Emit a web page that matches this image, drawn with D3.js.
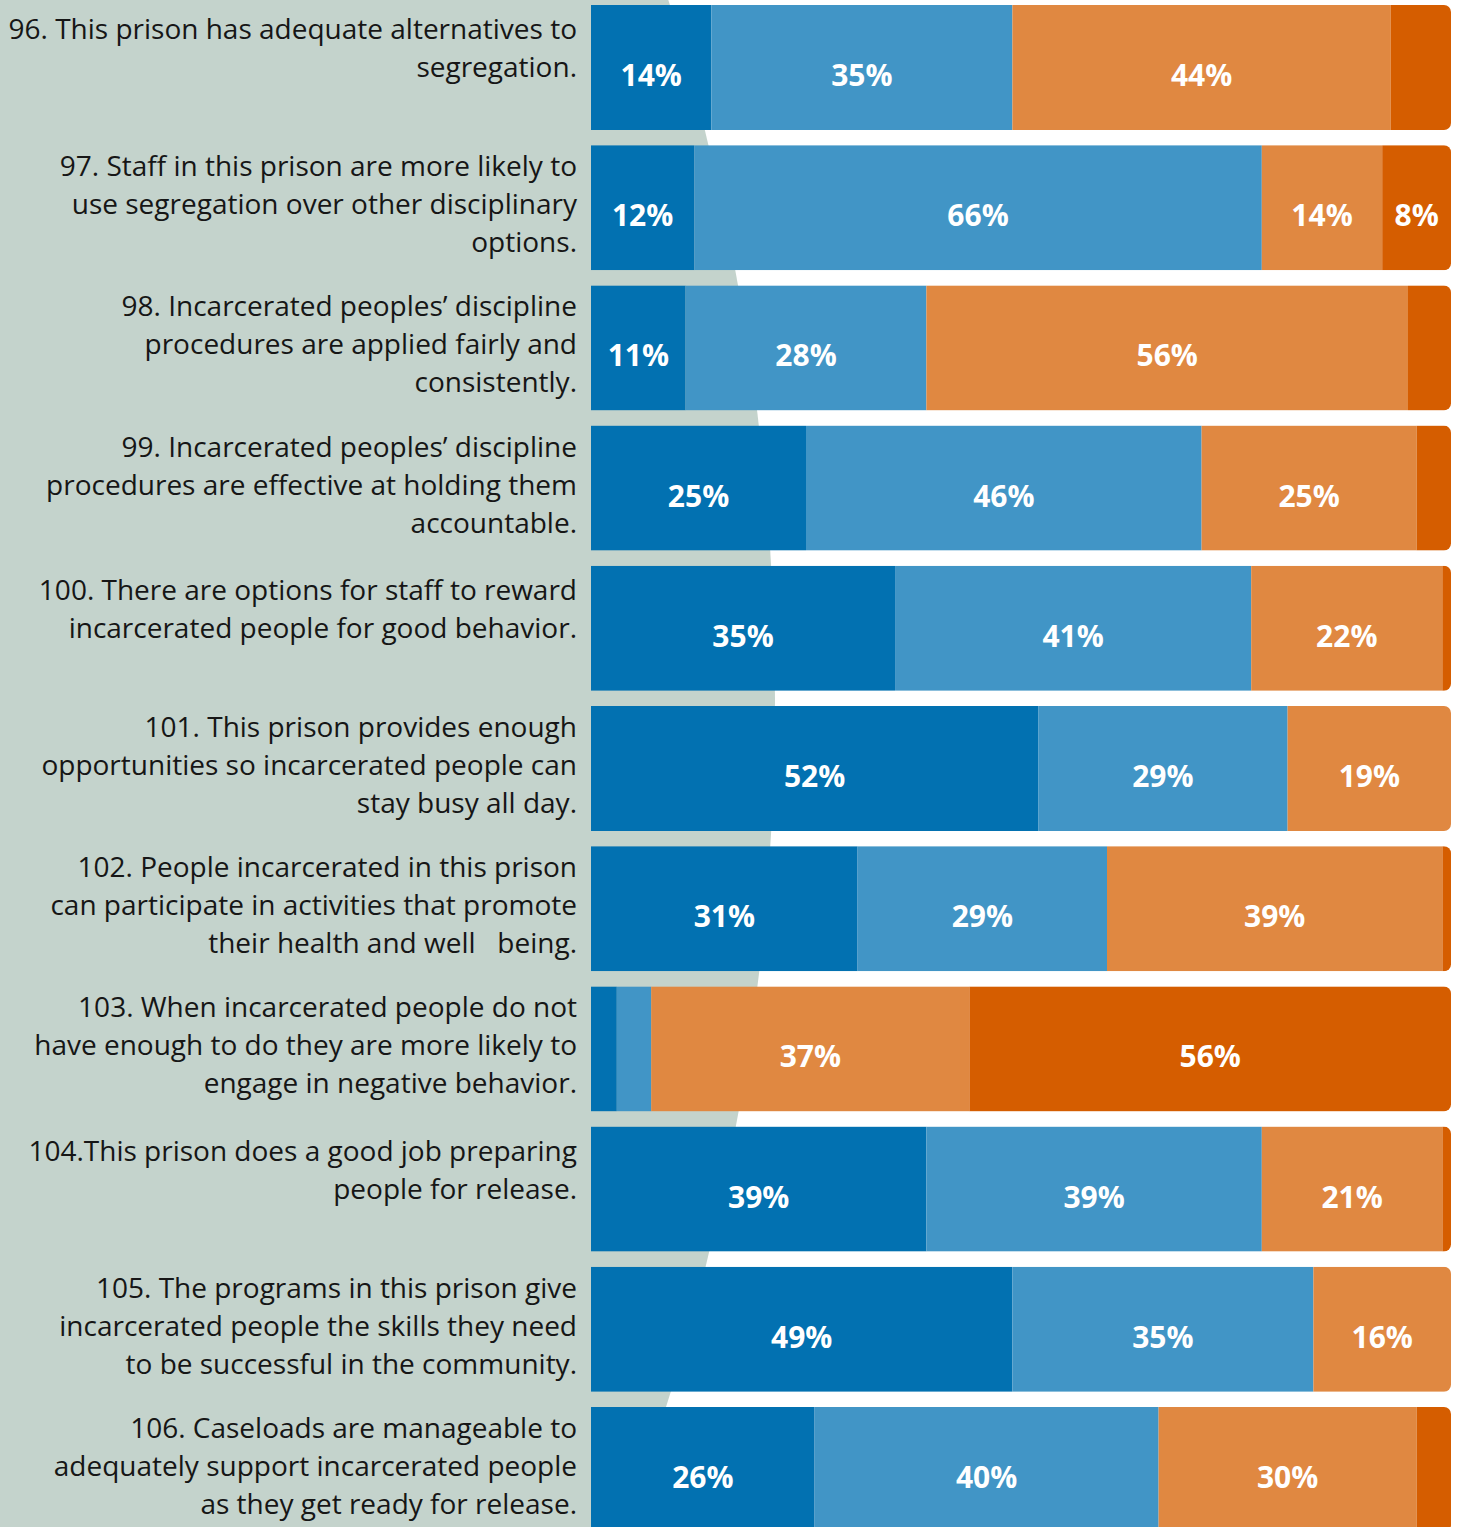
<!DOCTYPE html>
<html>
<head>
<meta charset="utf-8">
<script src="https://cdn.jsdelivr.net/npm/d3@7"></script>
<style>
  html, body { margin: 0; padding: 0; background: #fff; }
  svg { display: block; }
</style>
</head>
<body>
<svg id="chart" width="1458" height="1527"></svg>
<script>
// question text, already broken into the lines used in the report
let questions = [
  ["96. This prison has adequate alternatives to", "segregation."],
  ["97. Staff in this prison are more likely to", "use segregation over other disciplinary", "options."],
  ["98. Incarcerated peoples\u2019 discipline", "procedures are applied fairly and", "consistently."],
  ["99. Incarcerated peoples\u2019 discipline", "procedures are effective at holding them", "accountable."],
  ["100. There are options for staff to reward", "incarcerated people for good behavior."],
  ["101. This prison provides enough", "opportunities so incarcerated people can", "stay busy all day."],
  ["102. People incarcerated in this prison", "can participate in activities that promote", "their health and well   being."],
  ["103. When incarcerated people do not", "have enough to do they are more likely to", "engage in negative behavior."],
  ["104.This prison does a good job preparing", "people for release."],
  ["105. The programs in this prison give", "incarcerated people the skills they need", "to be successful in the community."],
  ["106. Caseloads are manageable to", "adequately support incarcerated people", "as they get ready for release."]
];

let stronglyAgree    = [14, 12, 11, 25, 35, 52, 31,  3, 39, 49, 26],
    agree            = [35, 66, 28, 46, 41, 29, 29,  4, 39, 35, 40],
    disagree         = [44, 14, 56, 25, 22, 19, 39, 37, 21, 16, 30],
    stronglyDisagree = [ 7,  8,  5,  4,  1,  0,  1, 56,  1,  0,  4];

let keys = ["sa", "a", "d", "sd"];
let colors = ["#0271b1", "#4195c6", "#e08841", "#d55d00"];

let rows = questions.map(function(q, i) {
  return { id: i, lines: q, sa: stronglyAgree[i], a: agree[i], d: disagree[i], sd: stronglyDisagree[i] };
});

let svg = d3.select("#chart"),
    width = +svg.attr("width"),
    height = +svg.attr("height");

// backdrop: white page with a big grey-green disc on the left
svg.append("rect").attr("width", width).attr("height", height).attr("fill", "#ffffff");
svg.append("circle")
    .attr("cx", -1575).attr("cy", 700).attr("r", 2350)
    .attr("fill", "#c4d3cc");

let x = d3.scaleLinear().domain([0, 1]).range([591, 1451]);
let y = d3.scaleBand()
    .domain(rows.map(function(d) { return d.id; }))
    .range([5, 1532])
    .paddingInner(0.1084)
    .paddingOuter(0);

let color = d3.scaleOrdinal().domain(keys).range(colors);

// each row is shown as shares of its own total
let series = d3.stack().keys(keys).offset(d3.stackOffsetExpand)(rows);

let bh = y.bandwidth(), r = 7;

// clip every row so only the right end is rounded
let defs = svg.append("defs");
defs.selectAll("clipPath")
  .data(rows)
  .enter().append("clipPath")
    .attr("id", function(d) { return "clip" + d.id; })
  .append("rect")
    .attr("x", x(0) - 20)
    .attr("y", function(d) { return y(d.id); })
    .attr("width", x(1) - x(0) + 20)
    .attr("height", bh)
    .attr("rx", r);

let layer = svg.selectAll("g.layer")
  .data(series)
  .enter().append("g")
    .attr("class", "layer")
    .attr("fill", function(s) { return color(s.key); });

layer.selectAll("rect")
  .data(function(s) { return s.map(function(d) { d.key = s.key; return d; }); })
  .enter().append("rect")
    .attr("clip-path", function(d) { return "url(#clip" + d.data.id + ")"; })
    .attr("x", function(d) { return x(d[0]); })
    .attr("y", function(d) { return y(d.data.id); })
    .attr("width", function(d) { return Math.max(0, x(d[1]) - x(d[0])); })
    .attr("height", bh);

// percentage labels
layer.selectAll("text")
  .data(function(s) { return s.filter(function(d) { return d.data[s.key] >= 8; }); })
  .enter().append("text")
    .attr("x", function(d) { return (x(d[0]) + x(d[1])) / 2; })
    .attr("y", function(d) { return y(d.data.id) + bh / 2 + 18.5; })
    .attr("text-anchor", "middle")
    .attr("fill", "#ffffff")
    .style("font-family", "'Open Sans', sans-serif")
    .style("font-weight", "700")
    .style("font-size", "30px")
    .text(function(d) { return d.data[d.key] + "%"; });

// question labels, right aligned against the bars
let qText = svg.selectAll("text.question")
  .data(rows)
  .enter().append("text")
    .attr("class", "question")
    .attr("text-anchor", "end")
    .attr("fill", "#161616")
    .style("font-family", "'Open Sans', sans-serif")
    .style("font-size", "28px")
    .style("white-space", "pre");

qText.selectAll("tspan")
  .data(function(d) {
    let top = y(d.id) + (d.lines.length < 3 ? 34 : 31);
    return d.lines.map(function(l, i) { return { text: l, y: top + i * 38 }; });
  })
  .enter().append("tspan")
    .attr("x", 577)
    .attr("y", function(d) { return d.y; })
    .text(function(d) { return d.text; });
</script>
</body>
</html>
